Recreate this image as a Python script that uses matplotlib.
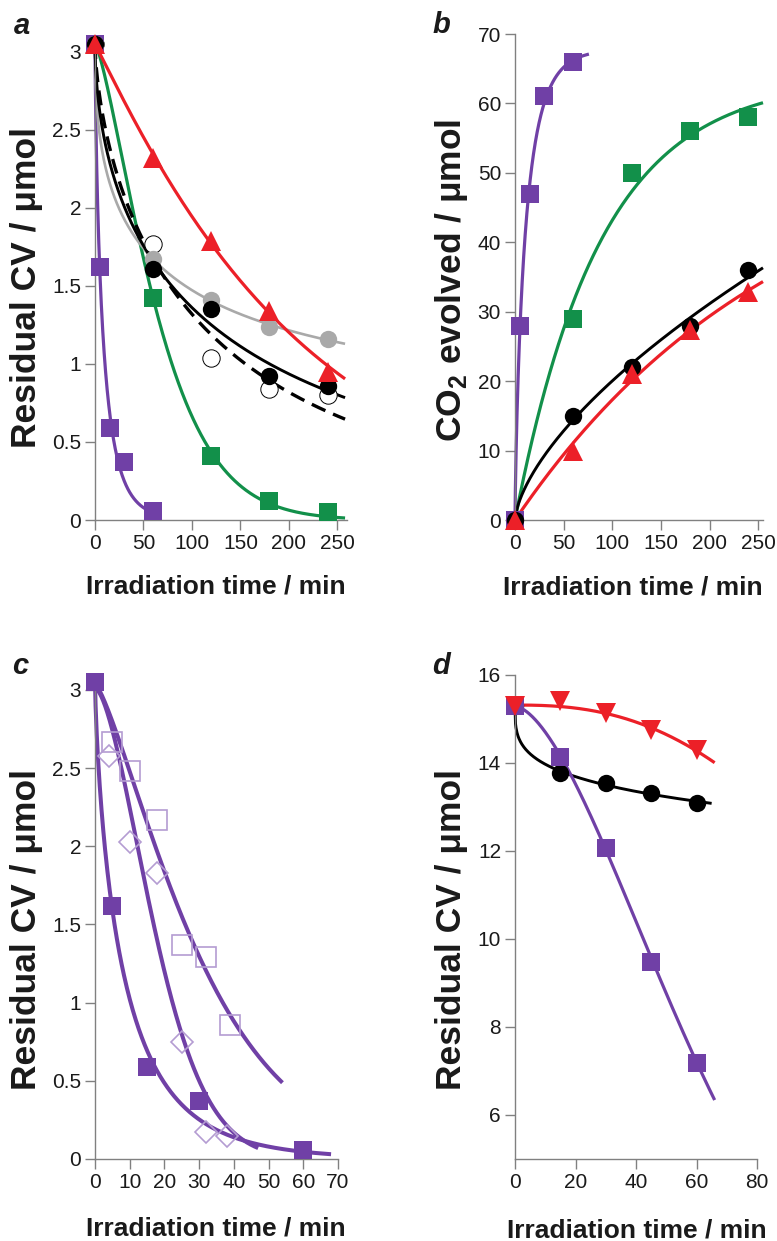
import numpy as np
import matplotlib
matplotlib.use("Agg")
import matplotlib.pyplot as plt

plt.rcParams['font.family'] = ['Liberation Sans', 'DejaVu Sans']
plt.rcParams['mathtext.fontset'] = 'custom'
plt.rcParams['mathtext.rm'] = 'Liberation Sans:bold'
plt.rcParams['mathtext.bf'] = 'Liberation Sans:bold'

# ---------------- data ----------------
# panel a: residual crystal violet (umol) vs irradiation time (min)
t_a = [0, 60, 120, 180, 240]
t_a_fast = [0, 5, 15, 30, 60]
a_purple = [3.05, 1.62, 0.59, 0.37, 0.06]
a_green = [3.05, 1.42, 0.41, 0.12, 0.05]
a_red = [3.05, 2.32, 1.79, 1.34, 0.95]
a_grey = [3.05, 1.67, 1.41, 1.24, 1.16]
a_black = [3.05, 1.61, 1.35, 0.92, 0.86]
a_open = [3.05, 1.77, 1.04, 0.84, 0.80]

# panel b: CO2 evolved (umol)
t_b = [0, 60, 120, 180, 240]
t_b_fast = [0, 5, 15, 30, 60]
b_purple = [0, 28, 47, 61, 66]
b_green = [0, 29, 50, 56, 58]
b_black = [0, 15, 22, 28, 36]
b_red = [0, 10, 21, 27.4, 32.8]

# panel c: residual CV at short times
t_c_filled = [0, 5, 15, 30, 60]
c_filled = [3.05, 1.62, 0.59, 0.37, 0.06]
t_c_square = [0, 5, 10, 18, 25, 32, 39]
c_square = [3.05, 2.67, 2.48, 2.17, 1.37, 1.29, 0.86]
t_c_diamond = [0, 4, 10, 18, 25, 32, 38]
c_diamond = [3.05, 2.58, 2.03, 1.83, 0.75, 0.17, 0.15]

# panel d: residual CV at higher loading
t_d = [0, 15, 30, 45, 60]
d_red = [15.3, 15.4, 15.14, 14.75, 14.3]
d_black = [15.3, 13.77, 13.55, 13.32, 13.09]
d_purple = [15.3, 14.14, 12.07, 9.48, 7.18]

# ---------------- styling ----------------
PURPLE = '#7040A6'
LPURPLE = '#B49CD2'
GREEN = '#12904A'
RED = '#EC2028'
GREY = '#A9A9A9'
SPINE = '#808080'


def fit_curve(t, y, mode='decay', n_fixed=None, w0=6.0):
    """Least-squares fit of a stretched exponential.

    mode 'decay': y = A*exp(-(t/tau)**n)
    mode 'rise' : y = A*(1 - exp(-(t/tau)**n))
    mode 'free' : y = c + A*exp(-(t/tau)**n)
    """
    t = np.asarray(t, float)
    y = np.asarray(y, float)
    w = np.ones_like(t)
    w[t == 0] = w0
    taus = np.geomspace(0.5, 20000, 800)
    ns = [n_fixed] if n_fixed is not None else np.linspace(0.3, 3.0, 55)
    best = None
    W = w.sum()
    my = (y * w).sum() / W
    for n in ns:
        E = np.exp(-(t[None, :] / taus[:, None]) ** n)
        if mode == 'free':
            me = (E * w).sum(1) / W
            d = E - me[:, None]
            var = (d ** 2 * w).sum(1)
            ok = var > 1e-12
            A = np.where(ok, (d * (y - my) * w).sum(1) / np.where(ok, var, 1), 0)
            c = my - A * me
        else:
            F = E if mode == 'decay' else 1 - E
            den = (F ** 2 * w).sum(1)
            ok = den > 1e-12
            A = np.where(ok, (F * y * w).sum(1) / np.where(ok, den, 1), 0)
            c = np.zeros_like(A) if mode == 'decay' else A.copy()
            A = A if mode == 'decay' else -A
        pred = c[:, None] + A[:, None] * E
        sse = (((pred - y) ** 2) * w).sum(1)
        sse[~ok] = np.inf
        i = int(np.argmin(sse))
        if best is None or sse[i] < best[0]:
            best = (sse[i], n, taus[i], A[i], c[i])
    _, n, tau, A, c = best
    return lambda tt: c + A * np.exp(-(np.asarray(tt, float) / tau) ** n)


def draw_fit(ax, t, y, t_end, color, lw=2.3, ls='-', mode='decay', n_fixed=None, z=2):
    f = fit_curve(t, y, mode=mode, n_fixed=n_fixed)
    tt = np.linspace(0, t_end, 400)
    ax.plot(tt, f(tt), color=color, lw=lw, ls=ls, zorder=z, clip_on=False,
            solid_capstyle='butt', dash_capstyle='butt')


def style_axes(ax, xlim, ylim, xticks, yticks, yfmt):
    ax.set_xlim(*xlim)
    ax.set_ylim(*ylim)
    for s in ('top', 'right'):
        ax.spines[s].set_visible(False)
    for s in ('left', 'bottom'):
        ax.spines[s].set_color(SPINE)
        ax.spines[s].set_linewidth(1.0)
    ax.set_xticks(xticks)
    ax.set_yticks(yticks)
    ax.set_yticklabels([yfmt(v) for v in yticks])
    ax.tick_params(direction='out', length=7, width=1.0, color=SPINE,
                   labelsize=15, labelcolor='#1a1a1a', pad=3)
    ax.patch.set_alpha(0)


def fmt_g(v):
    return '%g' % v


W_PX, H_PX = 777, 1241
fig = plt.figure(figsize=(W_PX / 100, H_PX / 100), dpi=100)


def axes_px(x0, x1, y_top, y_bot):
    return fig.add_axes([x0 / W_PX, 1 - y_bot / H_PX, (x1 - x0) / W_PX, (y_bot - y_top) / H_PX])


sq = dict(marker='s', ms=13.5, ls='none', clip_on=False, mew=0)
tri = dict(marker='^', ms=14.5, ls='none', clip_on=False, mew=0)
circ = dict(marker='o', ms=12.5, ls='none', clip_on=False, mew=0)

# ---------------- panel a ----------------
ax = axes_px(95, 347, 41, 520)
style_axes(ax, (0, 260), (0, 3.07), [0, 50, 100, 150, 200, 250],
           [0, 0.5, 1, 1.5, 2, 2.5, 3], fmt_g)
draw_fit(ax, t_a_fast, a_purple, 65, PURPLE)
draw_fit(ax, t_a, a_green, 258, GREEN)
draw_fit(ax, t_a, a_grey, 258, GREY, lw=1.9, mode='free')
draw_fit(ax, t_a, a_black, 258, 'black', lw=2.1)
draw_fit(ax, t_a, a_open, 258, 'black', lw=2.4, ls=(0, (4.5, 2.5)))
draw_fit(ax, t_a, a_red, 258, RED)
ax.plot(t_a, a_green, color=GREEN, zorder=4, **sq)
ax.plot(t_a_fast, a_purple, color=PURPLE, zorder=4, **sq)
ax.plot(t_a, a_open, marker='o', ms=12.5, ls='none', mfc='white', mec='black',
        mew=0.7, zorder=3, clip_on=False)
ax.plot(t_a, a_grey, color=GREY, zorder=4, **circ)
ax.plot(t_a, a_black, color='black', zorder=5, **circ)
ax.plot(t_a, a_red, color=RED, zorder=6, **tri)

# ---------------- panel b ----------------
ax = axes_px(515, 763, 34, 520)
style_axes(ax, (0, 255), (0, 70), [0, 50, 100, 150, 200, 250],
           list(range(0, 71, 10)), lambda v: '%d' % v)
draw_fit(ax, t_b_fast, b_purple, 76, PURPLE, mode='rise')
draw_fit(ax, t_b, b_green, 255, GREEN, mode='rise', n_fixed=1.0)
draw_fit(ax, t_b, b_black, 255, 'black', lw=2.1, mode='rise')
draw_fit(ax, t_b, b_red, 255, RED, mode='rise', n_fixed=1.0)
ax.plot(t_b, b_green, color=GREEN, zorder=4, **sq)
ax.plot(t_b_fast, b_purple, color=PURPLE, zorder=4, **sq)
ax.plot(t_b, b_black, color='black', zorder=5, **circ)
ax.plot(t_b, b_red, color=RED, zorder=6, **tri)

# ---------------- panel c ----------------
ax = axes_px(95, 338, 679, 1159)
style_axes(ax, (0, 70), (0, 3.07), list(range(0, 71, 10)),
           [0, 0.5, 1, 1.5, 2, 2.5, 3], fmt_g)
draw_fit(ax, t_c_filled, c_filled, 68, PURPLE, lw=2.9)
draw_fit(ax, t_c_diamond, c_diamond, 47, PURPLE, lw=2.9)
draw_fit(ax, t_c_square, c_square, 54, PURPLE, lw=2.9)
ax.plot(t_c_square[1:], c_square[1:], marker='s', ms=14.5, ls='none', mfc='none',
        mec=LPURPLE, mew=1.2, zorder=3, clip_on=False)
ax.plot(t_c_diamond[1:], c_diamond[1:], marker='D', ms=11, ls='none', mfc='none',
        mec=LPURPLE, mew=1.2, zorder=3, clip_on=False)
ax.plot(t_c_filled, c_filled, color=PURPLE, zorder=4, **sq)

# ---------------- panel d ----------------
ax = axes_px(515, 757, 675, 1159)
style_axes(ax, (0, 80), (5, 16), [0, 20, 40, 60, 80],
           [6, 8, 10, 12, 14, 16], lambda v: '%d' % v)
draw_fit(ax, t_d, d_black, 65, 'black', lw=2.1, mode='free')
draw_fit(ax, t_d, d_purple, 66, PURPLE)
draw_fit(ax, t_d, d_red, 66, RED)
ax.plot(t_d, d_black, color='black', zorder=4, **circ)
ax.plot(t_d, d_purple, color=PURPLE, zorder=5, **sq)
ax.plot(t_d, d_red, marker='v', ms=14.5, ls='none', color=RED, mew=0,
        zorder=6, clip_on=False)

# ---------------- labels ----------------
def ftext(x, y, s, **kw):
    fig.text(x / W_PX, 1 - y / H_PX, s, **kw)


lab = dict(fontsize=19, fontweight='bold', color='#1a1a1a')
ylab = dict(fontsize=25.5, fontweight='bold', color='#1a1a1a', rotation=90,
            ha='center', va='center')
ftext(216, 593, 'Irradiation time / min', ha='center', va='baseline', **lab)
ftext(633, 595, 'Irradiation time / min', ha='center', va='baseline', **lab)
ftext(216, 1235, 'Irradiation time / min', ha='center', va='baseline', **lab)
ftext(637, 1237, 'Irradiation time / min', ha='center', va='baseline', **lab)
ftext(27, 288, 'Residual CV / \u03bcmol', **ylab)
ftext(451, 280, 'CO$_\\mathbf{2}$ evolved / \u03bcmol', **ylab)
ftext(27, 930, 'Residual CV / \u03bcmol', **ylab)
ftext(451, 930, 'Residual CV / \u03bcmol', **ylab)

plet = dict(fontsize=21, fontweight='bold', fontstyle='italic', ha='center',
            va='center', color='#1a1a1a')
ftext(22, 26, 'a', **plet)
ftext(441, 25, 'b', **plet)
ftext(20, 666, 'c', **plet)
ftext(441, 666, 'd', **plet)

fig.savefig('out.png', dpi=100, facecolor='white')
